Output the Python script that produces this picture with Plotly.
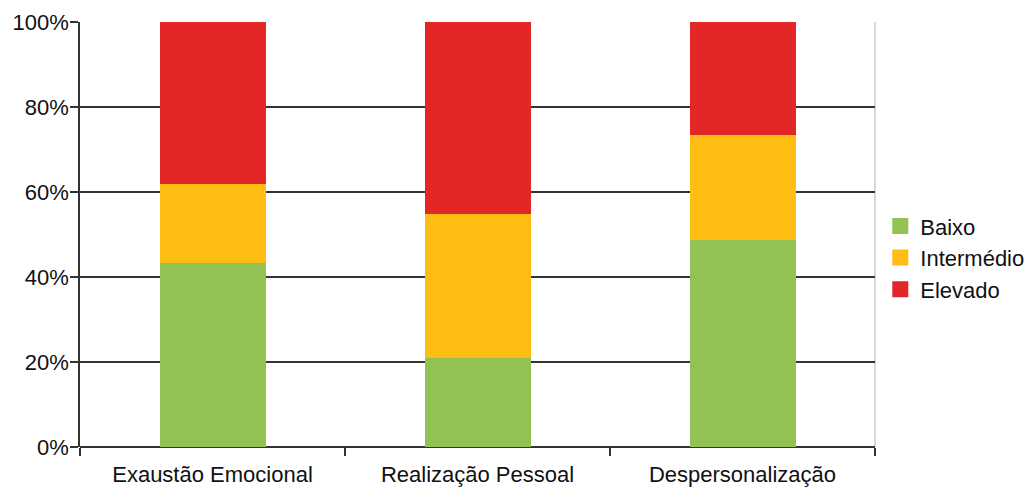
import plotly.graph_objects as go

# Burnout dimensions and share of each level (%)
categories = ["Exaustão Emocional", "Realização Pessoal", "Despersonalização"]
baixo = [43.3, 21.0, 48.7]
intermedio = [18.6, 33.8, 24.7]
elevado = [38.1, 45.2, 26.6]
y_ticks = [0, 20, 40, 60, 80, 100]
y_tick_labels = ["0%", "20%", "40%", "60%", "80%", "100%"]

series = [
    ("Baixo", baixo, "#92C154"),
    ("Intermédio", intermedio, "#FDBD13"),
    ("Elevado", elevado, "#E32726"),
]

fig = go.Figure()
for name, values, color in series:
    fig.add_trace(go.Bar(
        x=categories, y=values, name=name,
        marker=dict(color=color, line=dict(width=0)),
        width=0.4, showlegend=False,
    ))
# square legend keys
for name, values, color in series:
    fig.add_trace(go.Scatter(
        x=[None], y=[None], mode="markers", name=name,
        marker=dict(symbol="square", size=18, color=color),
    ))

fig.update_layout(
    barmode="stack",
    width=1032, height=488,
    margin=dict(l=80, r=157, t=22, b=41, autoexpand=False),
    paper_bgcolor="white", plot_bgcolor="white",
    font=dict(family="Liberation Sans, Arial, sans-serif", size=22, color="#111111"),
    legend=dict(
        xref="container", yref="container",
        x=0.853, y=0.472, xanchor="left", yanchor="middle",
        traceorder="normal", font=dict(size=22),
        itemwidth=30, tracegroupgap=0, itemsizing="trace",
    ),
    xaxis=dict(
        range=[-0.5, 2.5], tickson="boundaries", ticks="outside",
        ticklen=8, tickwidth=1.5, tickcolor="#333333",
        showline=False, showgrid=False,
        ticklabelstandoff=12,
    ),
    yaxis=dict(
        range=[0, 100], tickvals=y_ticks, ticktext=y_tick_labels,
        ticks="outside", ticklen=8, tickwidth=1.5, tickcolor="#333333",
        showgrid=True, gridcolor="#333333", gridwidth=1.5,
        zeroline=True, zerolinecolor="#333333", zerolinewidth=1.5,
        showline=True, linecolor="#333333", linewidth=1.5,
        ticklabelstandoff=-3,
    ),
)

# light frame line on the right edge of the plotting area
fig.add_shape(type="line", xref="paper", yref="paper", x0=1, x1=1, y0=0, y1=1,
              line=dict(color="#cccccc", width=1.5), layer="below")

fig.write_html("out.html")
